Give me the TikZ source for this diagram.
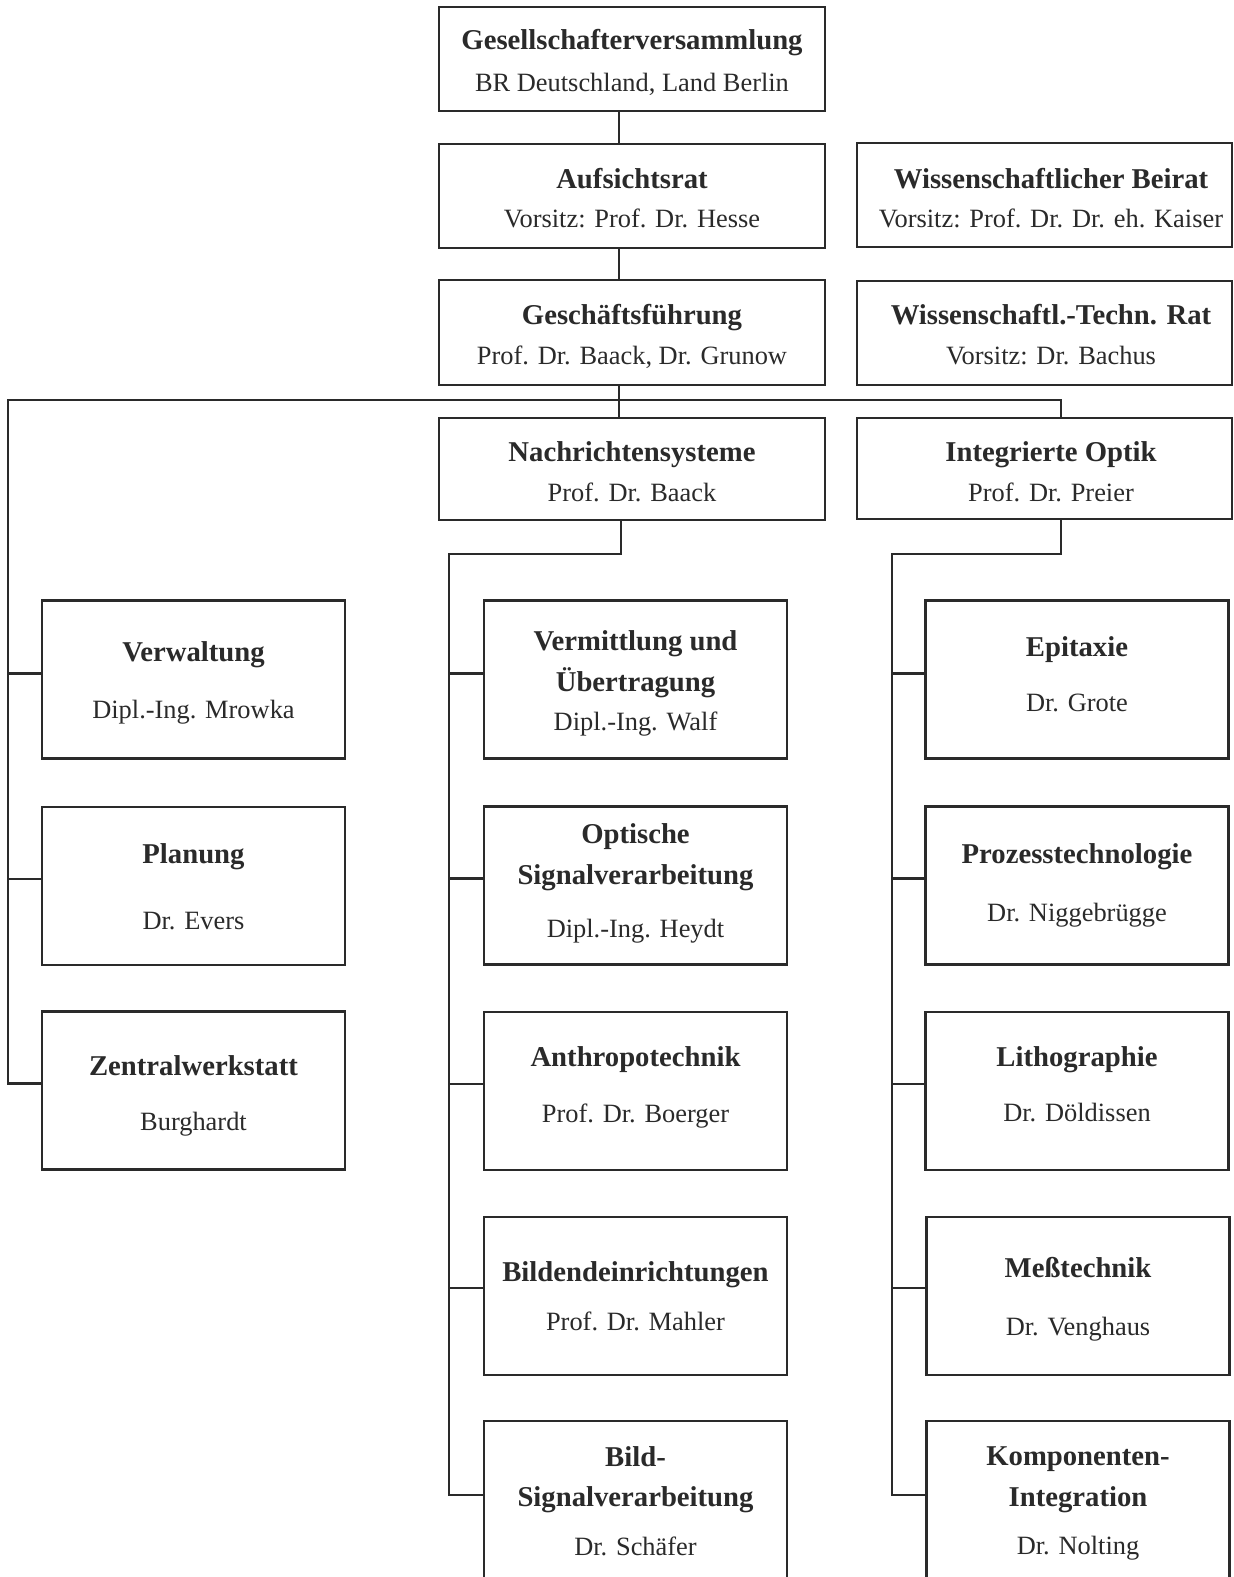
\documentclass[tikz,border=0pt]{standalone}
\usepackage{fontspec}
\setmainfont{Liberation Serif}
\definecolor{ink}{HTML}{2A2A2A}
\tikzset{
  box/.style={draw=ink, line width=2.8pt, inner sep=0pt, minimum width=303pt, minimum height=158pt},
  wire/.style={draw=ink, line width=2.8pt},
  ttl/.style={anchor=base, inner sep=0pt, text=ink, font=\fontsize{28.7}{32}\selectfont\bfseries},
  nm/.style={anchor=base, inner sep=0pt, text=ink, font=\fontsize{26.4}{30}\selectfont},
}
\begin{document}
\begin{tikzpicture}[x=1pt,y=-1pt]
\useasboundingbox (0,0) rectangle (1234,1577);
\clip (0,0) rectangle (1234,1577);
\fill[white] (0,0) rectangle (1234,1577);

% top column
\node[box, minimum width=386pt, minimum height=104pt] (gv) at (632,59) {};
\node[box, minimum width=386pt, minimum height=104pt] (ar) at (632,196) {};
\node[box, minimum width=386pt, minimum height=105pt] (gf) at (632,332.5) {};
\node[box, minimum width=386pt, minimum height=102pt] (ns) at (632,469) {};
% right top
\node[box, minimum width=375pt, minimum height=104pt] (wb) at (1044.5,195) {};
\node[box, minimum width=375pt, minimum height=104pt] (wt) at (1044.5,333) {};
\node[box, minimum width=375pt, minimum height=101pt] (io) at (1044.5,468.5) {};

% left column
\node[box] (vw) at (193.5,679.5) {};
\node[box] (pl) at (193.5,886) {};
\node[box] (zw) at (193.5,1090.5) {};
% center column
\node[box] (vu) at (635.5,679.5) {};
\node[box] (os) at (635.5,885.5) {};
\node[box] (an) at (635.5,1091) {};
\node[box] (be) at (635.5,1296) {};
\node[box, minimum height=170pt] (bs) at (635.5,1506) {};
% right column
\node[box] (ep) at (1077,679.5) {};
\node[box] (pt) at (1077,885.5) {};
\node[box] (li) at (1077,1091) {};
\node[box] (mt) at (1078,1296) {};
\node[box, minimum height=170pt] (ki) at (1078,1506) {};

% texts
\node[ttl] (gv1) at (632,49.5) {Gesellschafterversammlung};
\node[nm]  (gv2) at (632,91.5) {BR Deutschland, Land Berlin};
\node[ttl] (ar1) at (632,188) {Aufsichtsrat};
\node[nm]  (ar2) at (632,227) {Vorsitz: Prof. Dr. Hesse};
\node[ttl] (gf1) at (632,324) {Geschäftsführung};
\node[nm]  (gf2) at (632,364) {Prof. Dr. Baack, Dr. Grunow};
\node[ttl] (ns1) at (632,461) {Nachrichtensysteme};
\node[nm]  (ns2) at (632,501) {Prof. Dr. Baack};

\node[ttl] (wb1) at (1051,188) {Wissenschaftlicher Beirat};
\node[nm]  (wb2) at (1051,227) {Vorsitz: Prof. Dr. Dr. eh. Kaiser};
\node[ttl] (wt1) at (1051,324) {Wissenschaftl.-Techn. Rat};
\node[nm]  (wt2) at (1051,364) {Vorsitz: Dr. Bachus};
\node[ttl] (io1) at (1051,461) {Integrierte Optik};
\node[nm]  (io2) at (1051,501) {Prof. Dr. Preier};

\node[ttl] (vw1) at (193.5,661) {Verwaltung};
\node[nm]  (vw2) at (193.5,718) {Dipl.-Ing. Mrowka};
\node[ttl] (pl1) at (193.5,863) {Planung};
\node[nm]  (pl2) at (193.5,929) {Dr. Evers};
\node[ttl] (zw1) at (193.5,1075) {Zentralwerkstatt};
\node[nm]  (zw2) at (193.5,1130) {Burghardt};

\node[ttl] (vu1) at (635.5,650) {Vermittlung und};
\node[ttl] (vu2) at (635.5,691) {Übertragung};
\node[nm]  (vu3) at (635.5,730) {Dipl.-Ing. Walf};
\node[ttl] (os1) at (635.5,843) {Optische};
\node[ttl] (os2) at (635.5,884) {Signalverarbeitung};
\node[nm]  (os3) at (635.5,937) {Dipl.-Ing. Heydt};
\node[ttl] (an1) at (635.5,1066) {Anthropotechnik};
\node[nm]  (an2) at (635.5,1122) {Prof. Dr. Boerger};
\node[ttl] (be1) at (635.5,1281) {Bildendeinrichtungen};
\node[nm]  (be2) at (635.5,1330) {Prof. Dr. Mahler};
\node[ttl] (bs1) at (635.5,1466) {Bild-};
\node[ttl] (bs2) at (635.5,1506) {Signalverarbeitung};
\node[nm]  (bs3) at (635.5,1555) {Dr. Schäfer};

\node[ttl] (ep1) at (1077,656) {Epitaxie};
\node[nm]  (ep2) at (1077,711) {Dr. Grote};
\node[ttl] (pt1) at (1077,863) {Prozesstechnologie};
\node[nm]  (pt2) at (1077,921) {Dr. Niggebrügge};
\node[ttl] (li1) at (1077,1066) {Lithographie};
\node[nm]  (li2) at (1077,1121) {Dr. Döldissen};
\node[ttl] (mt1) at (1078,1277) {Meßtechnik};
\node[nm]  (mt2) at (1078,1335) {Dr. Venghaus};
\node[ttl] (ki1) at (1078,1465) {Komponenten-};
\node[ttl] (ki2) at (1078,1506) {Integration};
\node[nm]  (ki3) at (1078,1554) {Dr. Nolting};

% connectors
\coordinate (tc) at (619,0);
\coordinate (L) at (8,400);
\coordinate (R) at (1061,400);
\coordinate (cc) at (621,0);
\coordinate (cb) at (449,554);
\coordinate (rb) at (892,554);

\draw[wire] (gv.south -| tc) -- (ar.north -| tc);
\draw[wire] (ar.south -| tc) -- (gf.north -| tc);
\draw[wire] (gf.south -| tc) -- (ns.north -| tc);
\draw[wire] ([yshift=7pt]zw.west) -| (L) -- (R) -- (io.north -| R);
\draw[wire] ([yshift=6pt]vw.west) -- ([yshift=6pt]vw.west -| L);
\draw[wire] ([yshift=7pt]pl.west) -- ([yshift=7pt]pl.west -| L);

\draw[wire] (ns.south -| cc) |- (cb) |- ([yshift=11pt]bs.west);
\draw[wire] ([yshift=6pt]vu.west) -- ([yshift=6pt]vu.west -| cb);
\draw[wire] ([yshift=7pt]os.west) -- ([yshift=7pt]os.west -| cb);
\draw[wire] ([yshift=7pt]an.west) -- ([yshift=7pt]an.west -| cb);
\draw[wire] ([yshift=8pt]be.west) -- ([yshift=8pt]be.west -| cb);

\draw[wire] (io.south -| R) |- (rb) |- ([yshift=11pt]ki.west);
\draw[wire] ([yshift=6pt]ep.west) -- ([yshift=6pt]ep.west -| rb);
\draw[wire] ([yshift=7pt]pt.west) -- ([yshift=7pt]pt.west -| rb);
\draw[wire] ([yshift=7pt]li.west) -- ([yshift=7pt]li.west -| rb);
\draw[wire] ([yshift=8pt]mt.west) -- ([yshift=8pt]mt.west -| rb);
\end{tikzpicture}
\end{document}
